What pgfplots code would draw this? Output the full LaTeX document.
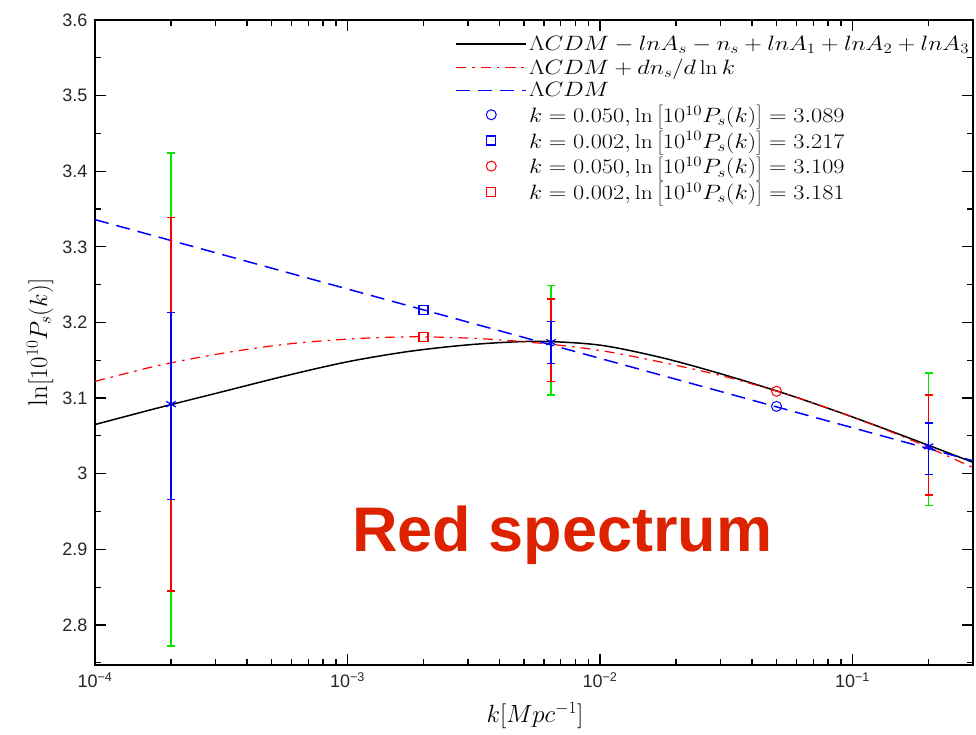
\documentclass[border=0pt]{standalone}
\usepackage{pgfplots}
\pgfplotsset{compat=1.18}
\usepackage{fontspec}
\usepackage{graphicx}
\newfontfamily\arial{Liberation Sans}
\definecolor{mred}{RGB}{255,0,0}
\definecolor{mgreen}{RGB}{0,230,0}
\definecolor{mblue}{RGB}{0,0,255}
\definecolor{spec}{RGB}{221,34,0}
\newcommand{\lgd}[1]{\scalebox{1.17}[1]{$#1$}}

\begin{document}
\begin{tikzpicture}
\useasboundingbox (-95pt,-70pt) rectangle (881pt,665pt);
\begin{axis}[
  xmode=log,
  scale only axis, width=878pt, height=645pt,
  xmin=1e-4, xmax=0.3, ymin=2.747, ymax=3.6,
  xtick={1e-4,1e-3,1e-2,1e-1},
  xticklabels={10\textsuperscript{−4},10\textsuperscript{−3},10\textsuperscript{−2},10\textsuperscript{−1}},
  minor xtick={2e-4,3e-4,4e-4,5e-4,6e-4,7e-4,8e-4,9e-4,2e-3,3e-3,4e-3,5e-3,6e-3,7e-3,8e-3,9e-3,
               2e-2,3e-2,4e-2,5e-2,6e-2,7e-2,8e-2,9e-2,0.2,0.3},
  ytick={2.8,2.9,3,3.1,3.2,3.3,3.4,3.5,3.6},
  yticklabels={2.8,2.9,3,3.1,3.2,3.3,3.4,3.5,3.6},
  minor ytick={2.75,2.85,2.95,3.05,3.15,3.25,3.35,3.45,3.55},
  tick align=inside,
  major tick length=11pt, minor tick length=6pt,
  every tick/.style={black, line width=1.2pt},
  axis line style={line width=1.6pt},
  ticklabel style={font=\arial\fontsize{18}{20}\selectfont, text=black!85},
  xticklabel style={yshift=-4pt},
  yticklabel style={xshift=-4pt},
  label style={font=\fontsize{27}{30}\selectfont},
  xlabel={$k[Mpc^{-1}]$},
  ylabel={$\ln[10^{10}P_s(k)]$},
  xlabel style={at={(axis description cs:0.501,-0.078)}, anchor=center},
  ylabel style={at={(axis description cs:-0.0626,0.5)}, anchor=center},
  legend image code/.code={\draw[mark repeat=2,mark phase=2,#1] plot coordinates {(0pt,0pt) (35pt,0pt) (70pt,0pt)};},
  legend style={draw=none, fill=none, at={(0.407,0.982)}, anchor=north west,
    font=\fontsize{20}{22}\selectfont, row sep=3pt},
  legend cell align=left,
]
% model curves
\addplot[black, line width=1.5pt, smooth] coordinates {
  (1e-4,3.065) (1.778e-4,3.087) (3.162e-4,3.108) (5.623e-4,3.129) (1e-3,3.148)
  (1.778e-3,3.162) (3.162e-3,3.171) (5.623e-3,3.175) (1e-2,3.170) (1.778e-2,3.153)
  (3.162e-2,3.130) (5.623e-2,3.104) (0.1,3.075) (0.1778,3.044) (0.3,3.015)
};
\addlegendentry{\lgd{\Lambda CDM - lnA_s - n_s + lnA_1 + lnA_2 + lnA_3}}
\addplot[mred, line width=1.2pt, smooth, dash pattern=on 10pt off 6pt on 2.5pt off 6pt] coordinates {
  (1e-4,3.122) (1.778e-4,3.143) (3.162e-4,3.159) (5.623e-4,3.171) (1e-3,3.178)
  (1.778e-3,3.181) (3.162e-3,3.179) (5.623e-3,3.173) (1e-2,3.163) (1.778e-2,3.147)
  (3.162e-2,3.128) (5.623e-2,3.104) (0.1,3.075) (0.1778,3.042) (0.3,3.008)
};
\addlegendentry{\lgd{\Lambda CDM + dn_s/d\ln k}}
\addplot[mblue, line width=1.5pt, dash pattern=on 14pt off 8pt] coordinates {
  (1e-4,3.336) (0.3,3.017)
};
\addlegendentry{\lgd{\Lambda CDM}}
% pivot values
\addplot[mblue, only marks, mark=o, mark size=5pt, line width=1pt] coordinates {(0.05,3.089)};
\addlegendentry{\lgd{k=0.050,\ln\left[10^{10}P_s(k)\right]=3.089}}
\addplot[mblue, only marks, mark=square, mark size=4.5pt, line width=1.2pt] coordinates {(0.002,3.217)};
\addlegendentry{\lgd{k=0.002,\ln\left[10^{10}P_s(k)\right]=3.217}}
\addplot[mred, only marks, mark=o, mark size=5pt, line width=1pt] coordinates {(0.05,3.109)};
\addlegendentry{\lgd{k=0.050,\ln\left[10^{10}P_s(k)\right]=3.109}}
\addplot[mred, only marks, mark=square, mark size=4.5pt, line width=1.2pt] coordinates {(0.002,3.181)};
\addlegendentry{\lgd{k=0.002,\ln\left[10^{10}P_s(k)\right]=3.181}}
% error bars: lower and upper ends of each interval
\addplot[mgreen, line width=1.5pt, mark=-, mark size=4pt, unbounded coords=jump, forget plot] coordinates {
  (2e-4,2.772) (2e-4,3.424) (2e-4,nan)
  (0.0064,3.104) (0.0064,3.249) (0.0064,nan)
  (0.2,2.958) (0.2,3.133)
};
\addplot[mred, line width=1.5pt, mark=-, mark size=4pt, unbounded coords=jump, forget plot] coordinates {
  (2e-4,2.845) (2e-4,3.339) (2e-4,nan)
  (0.0064,3.122) (0.0064,3.231) (0.0064,nan)
  (0.2,2.972) (0.2,3.104)
};
\addplot[mblue, line width=1.5pt, mark=-, mark size=4pt, unbounded coords=jump, forget plot] coordinates {
  (2e-4,2.966) (2e-4,3.213) (2e-4,nan)
  (0.0064,3.146) (0.0064,3.201) (0.0064,nan)
  (0.2,2.999) (0.2,3.067)
};
\addplot[mblue, only marks, mark=asterisk, mark size=5.5pt, line width=1.2pt, forget plot] coordinates {
  (2e-4,3.092) (0.0064,3.174) (0.2,3.036)
};
\node[anchor=base west, text=spec, font=\arial\bfseries\fontsize{63}{66}\selectfont, inner sep=0pt]
  at (axis description cs:0.2927,0.1757) {Red spectrum};
\end{axis}
\end{tikzpicture}
\end{document}
